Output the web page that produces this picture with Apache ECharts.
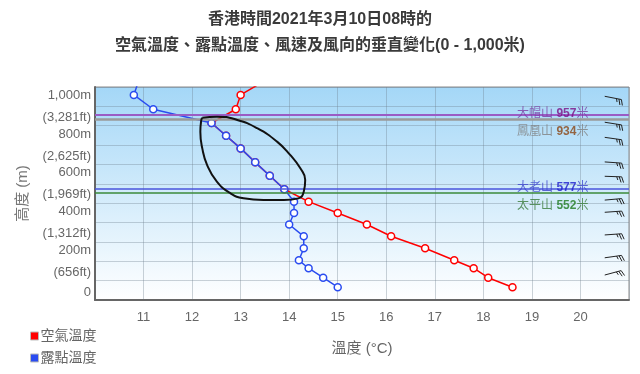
<!DOCTYPE html>
<html><head><meta charset="utf-8">
<script src="https://cdn.jsdelivr.net/npm/echarts@6/dist/echarts.min.js"></script>
<style>html,body{margin:0;padding:0;background:#fff}#c{width:640px;height:374px}</style>
</head><body><div id="c"></div>
<script>
// ---- data ----
const heights  = [66, 115, 164, 205, 267, 329, 390, 449, 508, 572, 642, 711, 783, 848, 914, 985, 1059, 1133];
const airTemp  = [18.6, 18.1, 17.8, 17.4, 16.8, 16.1, 15.6, 15.0, 14.4, 13.9, 13.6, 13.3, 13.0, 12.7, 12.4, 12.9, 13.0, 13.5];
const dewPoint = [15.0, 14.7, 14.4, 14.2, 14.3, 14.3, 14.0, 14.1, 14.1, 13.9, 13.6, 13.3, 13.0, 12.7, 12.4, 11.2, 10.8, 10.9];

const yTickValues = [0, 200, 400, 600, 800, 1000];
const yTickM  = ['0', '200m', '400m', '600m', '800m', '1,000m'];
const yTickFt = ['', '(656ft)', '(1,312ft)', '(1,969ft)', '(2,625ft)', '(3,281ft)'];
const xHiddenTicks = [10, 21];

const peakNames   = ['大帽山', '鳳凰山', '大老山', '太平山'];
const peakHeights = [957, 934, 577, 552];

const windHeights = [1052, 918, 840, 713, 639, 516, 453, 336, 218, 129];
const windDir     = [101, 99, 98, 94, 92, 85, 86, 86, 82, 75];
const windSpeed   = [25, 25, 25, 25, 25, 25, 25, 25, 25, 25];

// hand-drawn loop annotation (temperature, height)
const loopT = [12.21, 12.51, 12.93, 13.34, 13.75, 14.02, 14.23, 14.33, 14.30, 14.19, 13.89, 13.47, 13.06, 12.79, 12.51, 12.31, 12.21, 12.17, 12.19, 12.21];
const loopH = [941, 947, 930, 887, 818, 749, 680, 620, 559, 525, 516, 516, 525, 551, 611, 697, 783, 869, 930, 941];

// ---- styles ----
const FONT = '"Liberation Sans", Arial, "Noto Sans CJK TC", sans-serif';
const peakStyles = [
  {line: '#9a5cc4', lw: 2,   name: '#7b3fa3', val: '#7a0f86', offset: -1},
  {line: '#9a9a9a', lw: 2.5, name: '#808080', val: '#8b4513', offset: 12.5},
  {line: '#4a55dd', lw: 1.5, name: '#3b44cc', val: '#1c1ccc', offset: -1},
  {line: '#3a8a3a', lw: 1.5, name: '#3a7a3a', val: '#1e7b1e', offset: 13}
];
const BARB_X = 20.5;
const LABEL_X = 19.43;

function barb(params, api) {
  const p = api.coord([api.value(0), api.value(1)]);
  const d = api.value(2) * Math.PI / 180;
  const spd = api.value(3);
  const ux = Math.sin(d), uy = -Math.cos(d);
  const L = 17;
  const ex = p[0] + ux * L, ey = p[1] + uy * L;
  const a = 70 * Math.PI / 180;
  const fx = ux * Math.cos(a) - uy * Math.sin(a);
  const fy = ux * Math.sin(a) + uy * Math.cos(a);
  const children = [{type: 'polyline', shape: {points: [p, [ex, ey]]}, style: {stroke: '#222', lineWidth: 1, fill: null}}];
  let n = Math.floor(spd / 10), half = (spd % 10) >= 5;
  let k = 0;
  for (let i = 0; i < n; i++, k++) {
    const sx = ex - ux * 2.5 * k, sy = ey - uy * 2.5 * k;
    children.push({type: 'polyline', shape: {points: [[sx, sy], [sx + fx * 6, sy + fy * 6]]}, style: {stroke: '#222', lineWidth: 1, fill: null}});
  }
  if (half) {
    const sx = ex - ux * 2.5 * k, sy = ey - uy * 2.5 * k;
    children.push({type: 'polyline', shape: {points: [[sx, sy], [sx + fx * 3.5, sy + fy * 3.5]]}, style: {stroke: '#222', lineWidth: 1, fill: null}});
  }
  return {type: 'group', children};
}

const chart = echarts.init(document.getElementById('c'), null, {renderer: 'canvas'});
chart.setOption({
  animation: false,
  textStyle: {fontFamily: FONT},
  title: {
    text: '香港時間2021年3月10日08時的\n空氣溫度、露點溫度、風速及風向的垂直變化(0 - 1,000米)',
    left: 'center', top: 7, padding: [0, 0, 0, 10],
    textStyle: {fontSize: 16, fontWeight: 'bold', color: '#3a3a3a', lineHeight: 26, fontFamily: FONT}
  },
  legend: {
    orient: 'vertical', left: 30, top: 329, padding: 0, height: 45,
    itemWidth: 8, itemHeight: 8, itemGap: 8, icon: 'rect',
    textStyle: {fontSize: 14, color: '#666', fontFamily: FONT, padding: [0, 0, 0, -3]},
    data: [
      {name: '空氣溫度', itemStyle: {color: '#ff0000', borderColor: '#bbb', borderWidth: 1}},
      {name: '露點溫度', itemStyle: {color: '#2a4cf0', borderColor: '#bbb', borderWidth: 1}}
    ]
  },
  grid: {
    left: 95, right: 11, top: 87, bottom: 74, show: true,
    borderColor: '#8a8a8a', borderWidth: 1,
    backgroundColor: {type: 'linear', x: 0, y: 0, x2: 0, y2: 1,
      colorStops: [{offset: 0, color: '#a4d7f7'}, {offset: 1, color: '#ffffff'}]}
  },
  xAxis: {
    type: 'value', min: 10, max: 21, interval: 1,
    name: '溫度 (°C)', nameLocation: 'middle', nameGap: 41,
    nameTextStyle: {fontSize: 15, color: '#666', fontFamily: FONT},
    axisLine: {show: true, lineStyle: {color: '#666', width: 2}},
    axisTick: {show: false},
    axisLabel: {fontSize: 13, color: '#666', margin: 11, fontFamily: FONT,
      formatter: v => xHiddenTicks.includes(v) ? '' : String(v)},
    splitLine: {show: true, lineStyle: {color: 'rgba(110,125,140,0.35)', width: 1}}
  },
  yAxis: {
    type: 'value', min: 0, max: 1100, interval: 100,
    name: '高度 (m)', nameLocation: 'middle', nameGap: 65,
    nameTextStyle: {fontSize: 15, color: '#777', fontFamily: FONT},
    axisLine: {show: true, lineStyle: {color: '#666', width: 2}},
    axisTick: {show: false},
    axisLabel: {
      margin: 4, fontFamily: FONT,
      formatter: v => {
        const i = yTickValues.indexOf(v);
        if (i < 0) return '';
        if (!yTickFt[i]) return '{z|' + yTickM[i] + '}';
        return '{m|' + yTickM[i] + '}\n{m|' + yTickFt[i] + '}';
      },
      rich: {
        m: {fontSize: 13, color: '#666', lineHeight: 22, align: 'right', fontFamily: FONT},
        z: {fontSize: 13, color: '#666', lineHeight: 16, padding: [0, 0, 16, 0], align: 'right', fontFamily: FONT}
      }
    },
    splitLine: {show: true, lineStyle: {color: 'rgba(110,125,140,0.35)', width: 1}}
  },
  series: [
    {
      name: 'peaks', type: 'line', data: [], silent: true,
      markLine: {
        silent: true, symbol: 'none', label: {show: false},
        data: peakHeights.map((h, i) => ({yAxis: h, lineStyle: {color: peakStyles[i].line, width: peakStyles[i].lw, type: 'solid'}}))
      }
    },
    {
      name: 'peakLabels', type: 'scatter', symbolSize: 0, silent: true, z: 6,
      data: peakHeights.map((h, i) => ({
        value: [LABEL_X, h],
        label: {
          show: true, position: 'inside', offset: [0, peakStyles[i].offset],
          formatter: '{n|' + peakNames[i] + ' }{v|' + h + '}{n|米}',
          rich: {
            n: {fontSize: 12, color: peakStyles[i].name, fontFamily: FONT},
            v: {fontSize: 12, color: peakStyles[i].val, fontWeight: 'bold', fontFamily: FONT}
          }
        }
      }))
    },
    {
      name: '空氣溫度', type: 'line', z: 3,
      data: heights.map((h, i) => [airTemp[i], h]),
      symbol: 'circle', symbolSize: 7, showAllSymbol: true,
      lineStyle: {color: '#ff0000', width: 1.5},
      itemStyle: {color: '#ffffff', borderColor: '#ff0000', borderWidth: 1.5}
    },
    {
      name: '露點溫度', type: 'line', z: 4,
      data: heights.map((h, i) => [dewPoint[i], h]),
      symbol: 'circle', symbolSize: 7, showAllSymbol: true,
      lineStyle: {color: '#2a4cf0', width: 1.5},
      itemStyle: {color: '#ffffff', borderColor: '#2a4cf0', borderWidth: 1.5}
    },
    {
      name: 'loop', type: 'line', z: 7, silent: true, smooth: 0.5, symbol: 'none',
      data: loopT.map((t, i) => [t, loopH[i]]),
      lineStyle: {color: '#111', width: 2}
    },
    {
      name: 'wind', type: 'custom', z: 5, silent: true, clip: false,
      renderItem: barb,
      data: windHeights.map((h, i) => [BARB_X, h, windDir[i], windSpeed[i]])
    }
  ]
});
</script>
</body></html>
